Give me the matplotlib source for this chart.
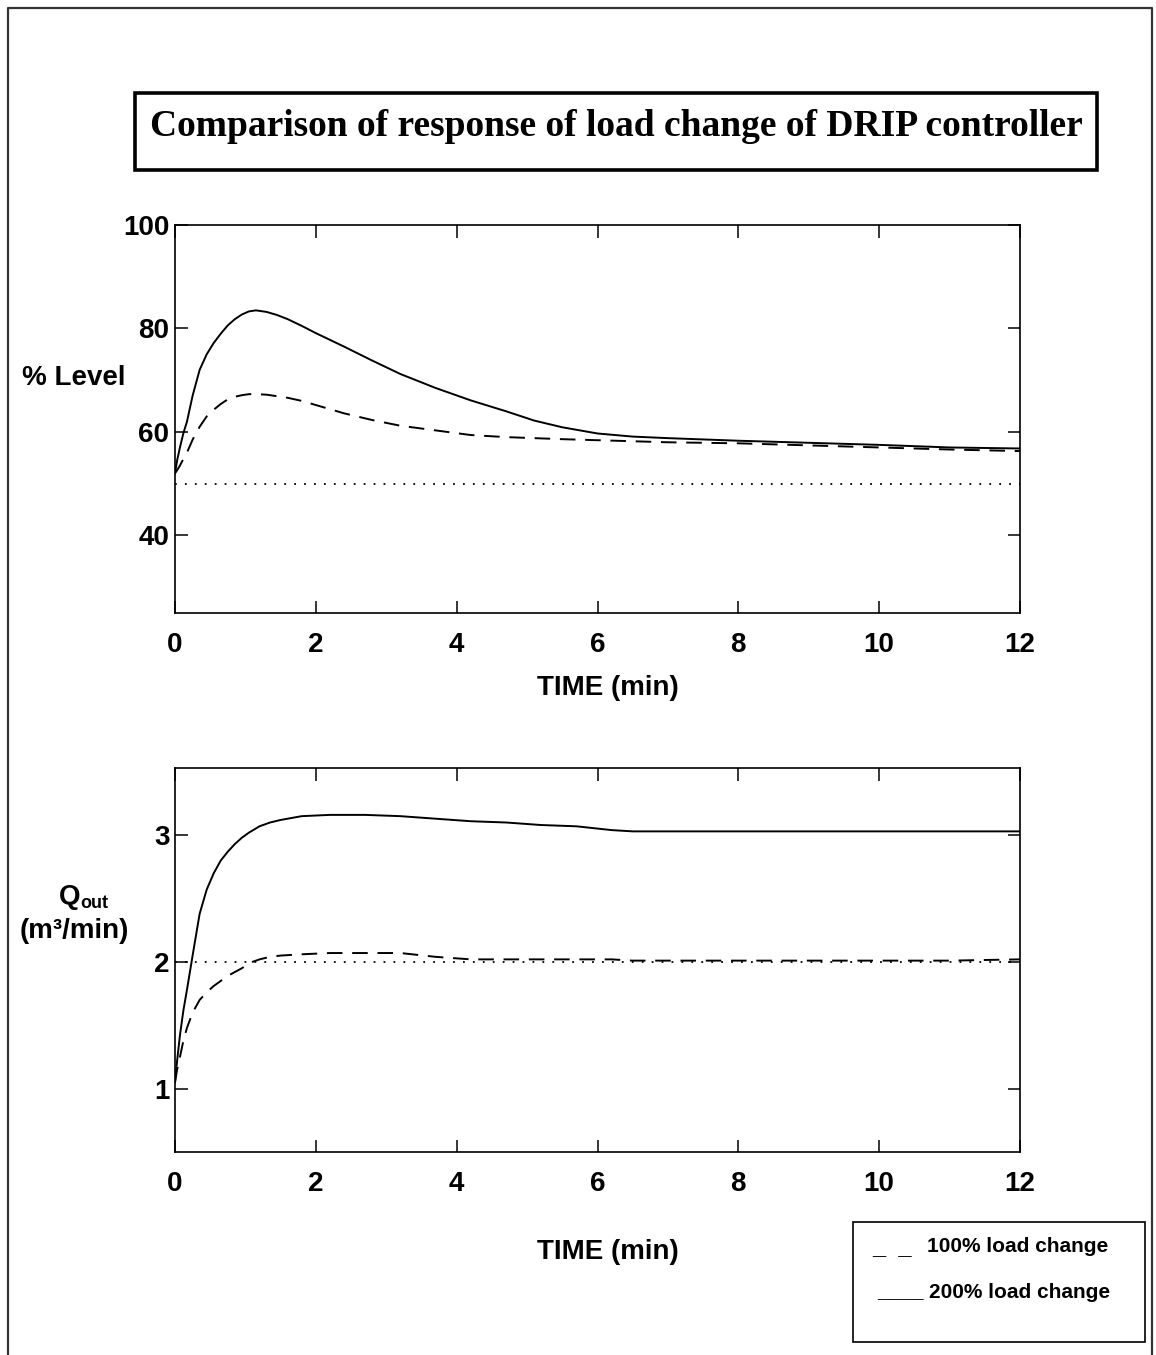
import matplotlib
matplotlib.use('Agg')
import matplotlib.pyplot as plt
from matplotlib.patches import Rectangle

# level response, % level vs time (min)
t_lev = [0, 0.03, 0.07, 0.12, 0.17, 0.25, 0.35, 0.45, 0.55, 0.65, 0.75, 0.85, 0.95, 1.05,
         1.15, 1.3, 1.45, 1.6, 1.8, 2.0, 2.4, 2.8, 3.2, 3.7, 4.2, 4.7, 5.1, 5.5, 6.0, 6.5,
         7.0, 8.0, 9.0, 10.0, 11.0, 12.0]
lev_200 = [52, 54.5, 57, 59.8, 62, 67, 72, 75, 77.2, 79, 80.6, 81.8, 82.7, 83.3,
           83.5, 83.2, 82.6, 81.8, 80.5, 79.1, 76.5, 73.8, 71.2, 68.5, 66.1, 64, 62.2, 60.9, 59.7, 59.1,
           58.8, 58.3, 57.9, 57.5, 57.0, 56.8]
lev_100 = [52, 52.6, 53.5, 54.8, 56, 58.5, 61, 63, 64.3, 65.4, 66.3, 66.8, 67.1, 67.3,
           67.3, 67.2, 66.9, 66.6, 66.0, 65.2, 63.6, 62.3, 61.2, 60.3, 59.4, 59.0, 58.8, 58.6, 58.4, 58.2,
           58.0, 57.8, 57.4, 57.0, 56.6, 56.3]
lev_set = 50

# outlet flow, m3/min vs time (min)
t_q = [0, 0.03, 0.07, 0.12, 0.17, 0.25, 0.35, 0.45, 0.55, 0.65, 0.75, 0.85, 0.95, 1.05,
       1.2, 1.35, 1.5, 1.8, 2.2, 2.7, 3.2, 3.7, 4.2, 4.7, 5.2, 5.7, 6.2, 6.5, 7, 8, 9, 10, 11, 12]
q_200 = [1.05, 1.22, 1.42, 1.62, 1.78, 2.05, 2.38, 2.57, 2.70, 2.80, 2.87, 2.93, 2.98, 3.02,
         3.07, 3.10, 3.12, 3.15, 3.16, 3.16, 3.15, 3.13, 3.11, 3.10, 3.08, 3.07, 3.04, 3.03,
         3.03, 3.03, 3.03, 3.03, 3.03, 3.03]
q_100 = [1.05, 1.15, 1.25, 1.38, 1.48, 1.60, 1.70, 1.76, 1.81, 1.85, 1.89, 1.92, 1.95, 1.99,
         2.02, 2.04, 2.05, 2.06, 2.07, 2.07, 2.07, 2.04, 2.02, 2.02, 2.02, 2.02, 2.02, 2.01,
         2.01, 2.01, 2.01, 2.01, 2.01, 2.02]
q_set = 2.0

xticks = [0, 2, 4, 6, 8, 10, 12]

W, H = 1156, 1355
plt.rcParams['font.family'] = 'Liberation Sans'
plt.rcParams['font.weight'] = 'bold'
fig = plt.figure(figsize=(W / 100, H / 100), dpi=100)

def fx(px):
    return px / W

def fy(py):
    return 1 - py / H

# page border (open at the bottom)
fig.add_artist(plt.Line2D([fx(8), fx(8), fx(1152), fx(1152)], [0, fy(8), fy(8), 0],
                          transform=fig.transFigure, color='#333333', lw=1.6))

# title box
fig.add_artist(Rectangle((fx(135), fy(170)), fx(1097) - fx(135), fy(93) - fy(170),
                         transform=fig.transFigure, fill=False, lw=2.6, ec='black'))
fig.text(fx(616), fy(127), 'Comparison of response of load change of DRIP controller',
         family='Liberation Serif', fontsize=27, weight='bold', ha='center', va='center')

def style(ax, ylim, yticks):
    ax.set_xlim(0, 12)
    ax.set_ylim(*ylim)
    ax.set_xticks(xticks)
    ax.set_yticks(yticks)
    ax.tick_params(direction='in', length=9, width=1.1, top=True, right=True,
                   labelsize=20, pad=4)
    ax.tick_params(axis='x', pad=14)
    for s in ax.spines.values():
        s.set_linewidth(1.2)

ax1 = fig.add_axes([fx(175), fy(613), fx(1020) - fx(175), fy(225) - fy(613)])
ax1.plot(t_lev, lev_200, color='black', lw=1.4)
ax1.plot(t_lev, lev_100, color='black', lw=1.4, dashes=(8, 5))
ax1.plot([0, 12], [lev_set, lev_set], color='black', lw=1.3, dashes=(1, 4.5))
style(ax1, (25, 100), [40, 60, 80, 100])

ax2 = fig.add_axes([fx(175), fy(1152), fx(1020) - fx(175), fy(768) - fy(1152)])
ax2.plot(t_q, q_200, color='black', lw=1.4)
ax2.plot(t_q, q_100, color='black', lw=1.4, dashes=(8, 5))
ax2.plot([0, 12], [q_set, q_set], color='black', lw=1.3, dashes=(1, 4.5))
style(ax2, (0.5, 3.53), [1, 2, 3])

# axis labels
fig.text(fx(22), fy(378), '% Level', fontsize=20, ha='left', va='center')
fig.text(fx(608), fy(688), 'TIME (min)', fontsize=20, ha='center', va='center')
fig.text(fx(608), fy(1252), 'TIME (min)', fontsize=20, ha='center', va='center')
fig.text(fx(80), fy(897), 'Q', fontsize=20, ha='right', va='center')
fig.text(fx(80), fy(903), 'out', fontsize=13, ha='left', va='center')
fig.text(fx(74), fy(931), '(m\u00b3/min)', fontsize=20, ha='center', va='center')

# legend box
fig.add_artist(Rectangle((fx(853), fy(1342)), fx(1145) - fx(853), fy(1222) - fy(1342),
                         transform=fig.transFigure, fill=False, lw=1.2, ec='black'))
fig.text(fx(872), fy(1247), '_  _', fontsize=17, ha='left', va='center')
fig.text(fx(927), fy(1247), '100% load change', fontsize=15, ha='left', va='center')
fig.text(fx(877), fy(1292), '____', fontsize=15, ha='left', va='center')
fig.text(fx(929), fy(1292), '200% load change', fontsize=15, ha='left', va='center')

fig.savefig('out.png', dpi=100)
